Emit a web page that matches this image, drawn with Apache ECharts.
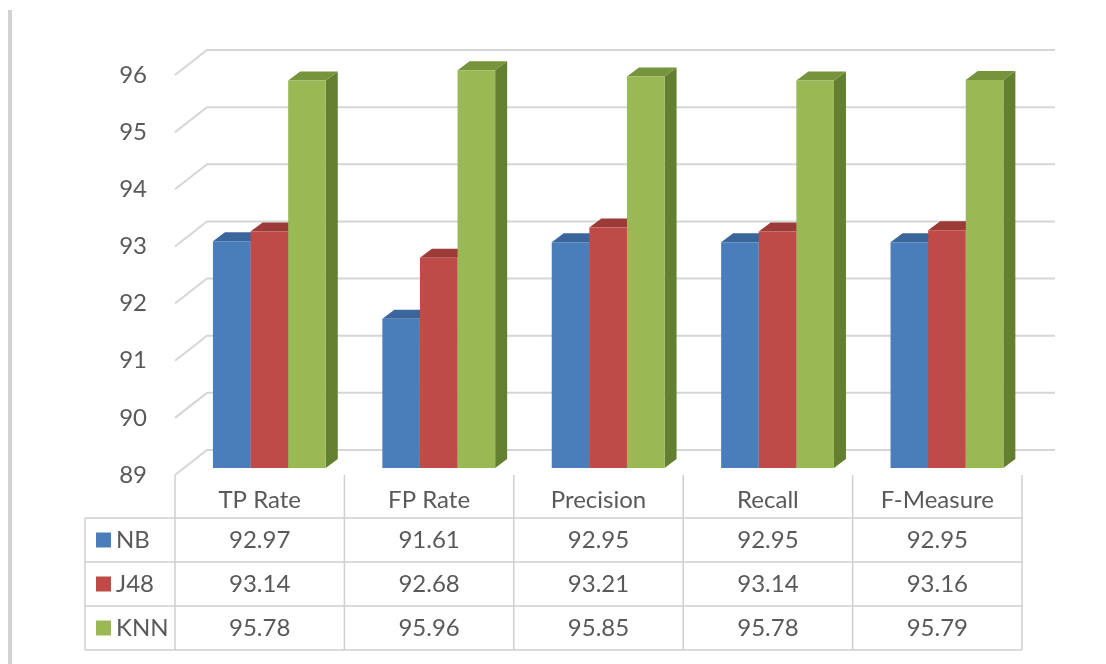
<!DOCTYPE html>
<html>
<head>
<meta charset="utf-8">
<script src="https://cdn.jsdelivr.net/npm/echarts@6/dist/echarts.min.js"></script>
<style>
  html, body { margin: 0; padding: 0; background: #ffffff; }
  #chart { width: 1106px; height: 664px; }
</style>
</head>
<body>
<div id="chart"></div>
<script>
// Classifier comparison: NB, J48 and KNN over five evaluation measures
const categories = ['TP Rate', 'FP Rate', 'Precision', 'Recall', 'F-Measure'];
const seriesNames = ['NB', 'J48', 'KNN'];
const nbValues  = [92.97, 91.61, 92.95, 92.95, 92.95];
const j48Values = [93.14, 92.68, 93.21, 93.14, 93.16];
const knnValues = [95.78, 95.96, 95.85, 95.78, 95.79];
const yTicks = [89, 90, 91, 92, 93, 94, 95, 96];

const allValues = [nbValues, j48Values, knnValues];

// Face colours: front, top, side
const palette = [
  { front: '#4a7ebb', top: '#3a669c', side: '#345c8c' },
  { front: '#be4b48', top: '#9c3a37', side: '#8a3431' },
  { front: '#98b954', top: '#76943b', side: '#637f30' }
];

const TEXT = '#595959';
const FONT = 'Lato, "Open Sans", sans-serif';
const GRID_LINE = '#d6d6d6';
const TABLE_LINE = '#cfcfcf';

// pseudo-3D depth of the plot box and of each column
const WALL_DX = 32, WALL_DY = 25;
const BAR_SHIFT_X = 9, BAR_SHIFT_Y = 7;
const BAR_DX = 12, BAR_DY = 9;

// table geometry below the plot floor
const HEADER_H = 43, ROW_H = 44, TABLE_LEFT = 85;

const chart = echarts.init(document.getElementById('chart'));

function wallRender(params, api) {
  const cs = params.coordSys;
  const y = api.coord([0, api.value(1)])[1];
  return {
    type: 'polyline',
    shape: { points: [[cs.x, y], [cs.x + WALL_DX, y - WALL_DY], [cs.x + cs.width + WALL_DX + 1, y - WALL_DY]] },
    style: { stroke: GRID_LINE, lineWidth: 2, fill: null },
    silent: true
  };
}

function barRender(k) {
  return function (params, api) {
    const i = api.value(0), v = api.value(1);
    const band = api.size([1, 0])[0];
    const base = api.coord([i, yTicks[0]]);
    const topPt = api.coord([i, v]);
    const w = band * 0.222;
    const x0 = base[0] - band / 2 + band * 0.224 + k * w;
    const yb = base[1] - BAR_SHIFT_Y;
    const yt = topPt[1] - BAR_SHIFT_Y;
    const c = palette[k];
    return {
      type: 'group',
      children: [
        { type: 'polygon', shape: { points: [[x0 + w, yt], [x0 + w + BAR_DX, yt - BAR_DY], [x0 + w + BAR_DX, yb - BAR_DY], [x0 + w, yb]] },
          style: { fill: c.side } },
        { type: 'polygon', shape: { points: [[x0, yt], [x0 + BAR_DX, yt - BAR_DY], [x0 + w + BAR_DX, yt - BAR_DY], [x0 + w, yt]] },
          style: { fill: c.top } },
        { type: 'rect', shape: { x: x0, y: yt, width: w, height: yb - yt },
          style: { fill: c.front } }
      ]
    };
  };
}

function tableRender(params, api) {
  const i = api.value(0);
  const band = api.size([1, 0])[0];
  const base = api.coord([i, yTicks[0]]);
  const left = base[0] - band / 2, right = base[0] + band / 2;
  const y0 = base[1];
  const yHead = y0 + HEADER_H;
  const yEnd = yHead + ROW_H * seriesNames.length;
  const lineStyle = { stroke: TABLE_LINE, lineWidth: 1.5 };
  const children = [];
  children.push({ type: 'line', shape: { x1: left, y1: y0, x2: left, y2: yEnd }, style: lineStyle });
  if (i === categories.length - 1) {
    children.push({ type: 'line', shape: { x1: right, y1: y0, x2: right, y2: yEnd }, style: lineStyle });
  }
  for (let r = 0; r <= seriesNames.length; r++) {
    const y = yHead + r * ROW_H;
    children.push({ type: 'line', shape: { x1: left, y1: y, x2: right, y2: y }, style: lineStyle });
  }
  for (let r = 0; r < seriesNames.length; r++) {
    children.push({
      type: 'text',
      style: {
        x: base[0], y: yHead + r * ROW_H + ROW_H / 2,
        text: allValues[r][i].toFixed(2),
        fill: TEXT, font: '24px ' + FONT, align: 'center', verticalAlign: 'middle'
      }
    });
  }
  if (i === 0) {
    // legend column
    children.push({ type: 'line', shape: { x1: TABLE_LEFT, y1: yHead, x2: TABLE_LEFT, y2: yEnd }, style: lineStyle });
    for (let r = 0; r <= seriesNames.length; r++) {
      const y = yHead + r * ROW_H;
      children.push({ type: 'line', shape: { x1: TABLE_LEFT, y1: y, x2: left, y2: y }, style: lineStyle });
    }
    for (let r = 0; r < seriesNames.length; r++) {
      const cy = yHead + r * ROW_H + ROW_H / 2;
      children.push({ type: 'rect', shape: { x: TABLE_LEFT + 11, y: cy - 7.5, width: 15, height: 15 },
        style: { fill: palette[r].front } });
      children.push({
        type: 'text',
        style: { x: TABLE_LEFT + 31, y: cy, text: seriesNames[r], fill: TEXT,
          font: '24px ' + FONT, align: 'left', verticalAlign: 'middle' }
      });
    }
  }
  return { type: 'group', children: children };
}

const option = {
  backgroundColor: '#ffffff',
  animation: false,
  grid: { left: 175, top: 75, width: 847, height: 400, containLabel: false },
  xAxis: {
    type: 'category',
    data: categories,
    axisLine: { show: false },
    axisTick: { show: false },
    axisLabel: { color: TEXT, fontSize: 24, fontFamily: FONT, margin: 13 },
    splitLine: { show: false }
  },
  yAxis: {
    type: 'value',
    min: yTicks[0],
    max: yTicks[yTicks.length - 1],
    interval: 1,
    axisLine: { show: false },
    axisTick: { show: false },
    splitLine: { show: false },
    axisLabel: { color: TEXT, fontSize: 24, fontFamily: FONT, margin: 28 }
  },
  graphic: [
    { type: 'rect', shape: { x: 8, y: 10, width: 4, height: 654 }, style: { fill: '#d2d2d2' }, silent: true }
  ],
  series: [
    {
      type: 'custom', name: 'wall', renderItem: wallRender, clip: false, silent: true, z: 1,
      data: yTicks.map(function (t) { return [0, t]; })
    },
    {
      type: 'custom', name: 'table', renderItem: tableRender, clip: false, silent: true, z: 1,
      data: categories.map(function (c, i) { return [i, yTicks[0]]; })
    }
  ].concat(seriesNames.map(function (name, k) {
    return {
      type: 'custom', name: name, renderItem: barRender(k), clip: false, z: 2,
      data: allValues[k].map(function (v, i) { return [i, v]; })
    };
  }))
};

chart.setOption(option);
</script>
</body>
</html>
